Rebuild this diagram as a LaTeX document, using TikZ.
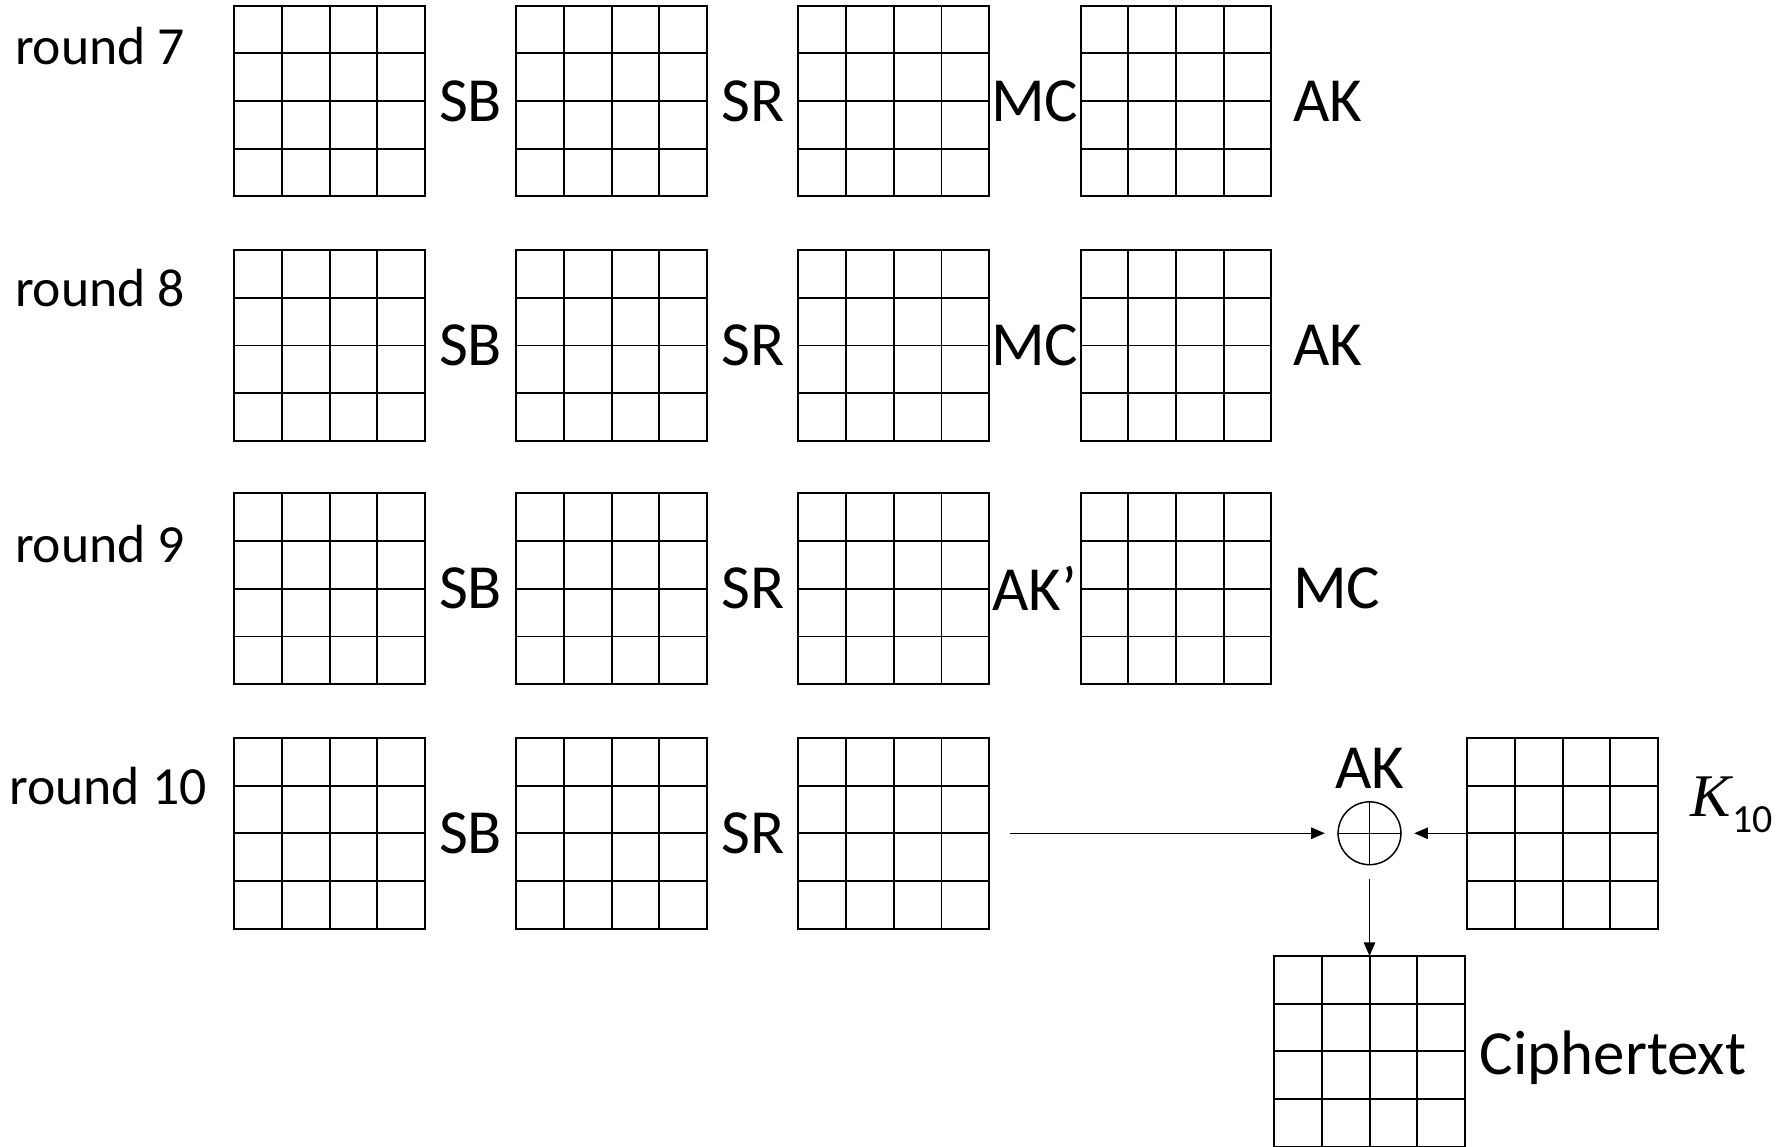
\documentclass[tikz,border=0pt]{standalone}
\usepackage{fontspec}
\setmainfont{Carlito}
\newfontfamily\kfont{Liberation Serif}
\usetikzlibrary{arrows.meta,positioning,calc}
\tikzset{
  st/.style  = {rectangle, draw, line width=1.7pt, minimum size=167pt,
                inner sep=0pt, outer sep=0pt,
                path picture={
                  \foreach \k in {1,2,3}{
                    \draw[line width=1.7pt]
                      ($(path picture bounding box.north west)!\k/4!(path picture bounding box.north east)$) --
                      ($(path picture bounding box.south west)!\k/4!(path picture bounding box.south east)$);
                    \draw[line width=1.7pt]
                      ($(path picture bounding box.north west)!\k/4!(path picture bounding box.south west)$) --
                      ($(path picture bounding box.north east)!\k/4!(path picture bounding box.south east)$);
                  }}},
  op/.style  = {font=\fontsize{55}{60}\selectfont, inner sep=0pt},
  rnd/.style = {font=\fontsize{47}{52}\selectfont, inner sep=0pt, anchor=west},
  xo/.style  = {circle, draw, line width=1.3pt, minimum size=55pt, inner sep=0pt},
  ed/.style  = {-{Triangle[length=12pt,width=10pt]}, line width=1.3pt},
}

\begin{document}
\begin{tikzpicture}[x=1pt,y=-1pt]
  \useasboundingbox (0,0) rectangle (1568,1004);
  % state grids of rounds 7 to 10
  \foreach \r/\y/\n/\ly/\lx in {7/88.5/4/40/13, 8/302.5/4/252/13, 9/515.5/4/476/13, 10/729.5/3/688/8}{
    \foreach \c in {1,...,\n}{
      \node[st] (s\r\c) at ({41.5+247*\c},\y) {};
    }
    \node[rnd] (r\r) at (\lx,\ly) {round \r};
    \node[op] (sb\r) at ($(s\r1.east)!0.5!(s\r2.west)$) {SB};
    \node[op] (sr\r) at ($(s\r2.east)!0.5!(s\r3.west)$) {SR};
  }
  \foreach \r/\a/\b in {7/MC/AK, 8/MC/AK, 9/AK'/MC}{
    \node[op] (pa\r) at ($(s\r3.east)!0.5!(s\r4.west)$) {\a};
    \node[op, right=19pt of s\r4] (pb\r) {\b};
  }
  % last round key addition
  \node[xo] (x) at (1199,729.5) {};
  \draw[line width=1.3pt] (x.north) -- (x.south) (x.west) -- (x.east);
  \node[op, above=11pt of x] (ak) {AK};
  \node[st] (k) at (1368,729.5) {};
  \node[inner sep=0pt, anchor=base west] (kl) at (1480,715)
    {{\fontsize{53}{58}\selectfont\kfont\itshape K}\kern1pt\raisebox{-14pt}{\fontsize{35}{40}\selectfont 10}};
  \node[st] (c) at (1199,920.5) {};
  \node[op, anchor=base west] (ct) at ($(c.east)+(13,20)$) {Ciphertext};
  \draw[ed, shorten <=18pt, shorten >=11pt] (s103) -- (x);
  \draw[ed, shorten >=11pt] (k) -- (x);
  \draw[ed, shorten <=12pt] (x) -- (c);
\end{tikzpicture}
\end{document}
